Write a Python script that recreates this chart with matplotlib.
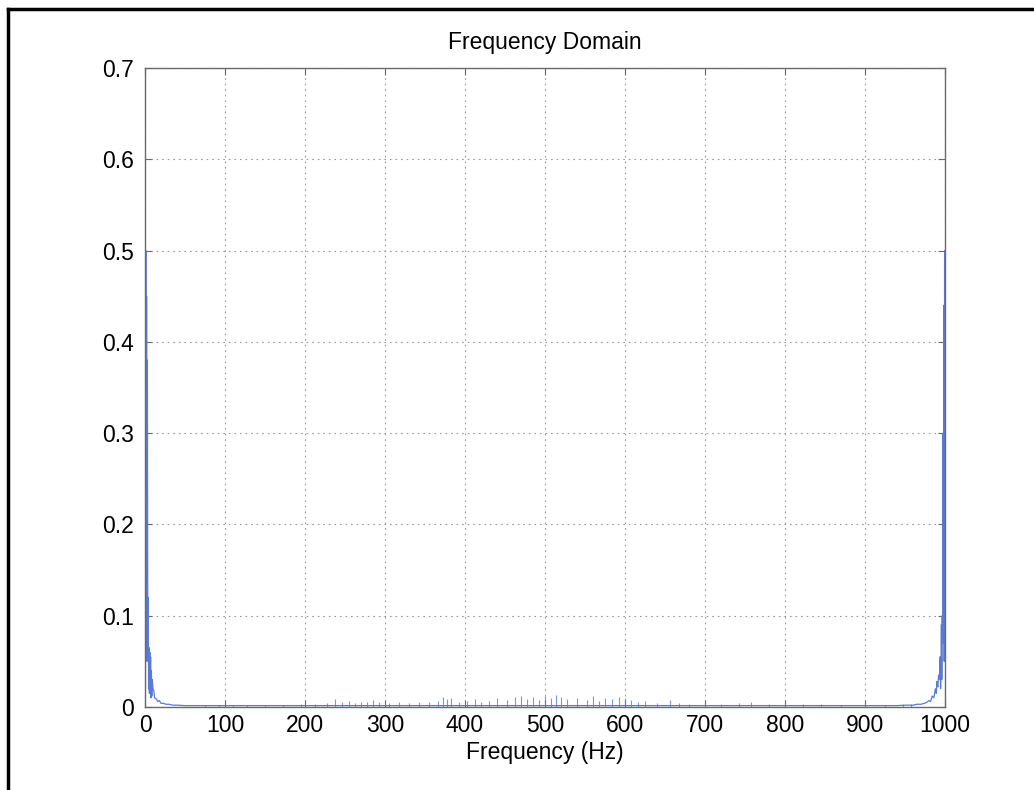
import matplotlib
matplotlib.use("Agg")
import matplotlib.pyplot as plt
from matplotlib.lines import Line2D

# ---- data ----
left_freq = [0, 0.5, 1, 1.5, 2, 2.5, 3, 3.5, 4, 4.5, 5, 5.5, 6, 6.5, 7, 7.5, 8,
             8.5, 9, 10, 11, 12, 14, 16, 18, 20, 23, 26, 30, 35, 40, 50, 60]
left_mag = [0.30, 0.02, 0.50, 0.06, 0.45, 0.05, 0.38, 0.07, 0.12, 0.02, 0.065,
            0.015, 0.06, 0.02, 0.055, 0.01, 0.04, 0.012, 0.03, 0.02, 0.018,
            0.010, 0.009, 0.006, 0.007, 0.004, 0.004, 0.003, 0.003, 0.002,
            0.002, 0.0015, 0.0015]

right_freq = [940, 950, 960, 965, 970, 974, 977, 980, 982, 984, 986, 988, 989,
              990, 991, 992, 993, 994, 994.5, 995, 995.5, 996, 996.5, 997,
              997.5, 998, 998.5, 999, 999.5]
right_mag = [0.0015, 0.002, 0.002, 0.003, 0.003, 0.004, 0.005, 0.007, 0.006,
             0.012, 0.010, 0.020, 0.015, 0.028, 0.022, 0.035, 0.030, 0.055,
             0.02, 0.045, 0.09, 0.03, 0.10, 0.08, 0.30, 0.07, 0.44, 0.05, 0.50]

mid_freq = [60, 940]
mid_mag = [0.0015, 0.0015]

noise_freq = [75, 92, 110, 128, 150, 172, 195, 212, 228, 238, 246, 255, 262,
              270, 278, 285, 292, 305, 318, 330, 342, 355, 366, 372, 378, 382,
              392, 402, 412, 420, 430, 440, 452, 462, 470, 478, 485, 492, 500,
              508, 514, 520, 528, 540, 552, 560, 568, 575, 584, 592, 600, 608,
              616, 625, 640, 656, 668, 680, 700, 720, 742, 758, 780, 800, 822,
              845, 870, 900, 925, 947, 958]
noise_mag = [0.002, 0.0025, 0.002, 0.002, 0.0025, 0.002, 0.003, 0.003, 0.004,
             0.009, 0.005, 0.007, 0.004, 0.006, 0.006, 0.008, 0.005, 0.004,
             0.006, 0.004, 0.005, 0.005, 0.007, 0.011, 0.009, 0.010, 0.006,
             0.007, 0.009, 0.006, 0.007, 0.010, 0.008, 0.011, 0.012, 0.009,
             0.011, 0.008, 0.012, 0.010, 0.013, 0.011, 0.009, 0.010, 0.008,
             0.012, 0.007, 0.010, 0.009, 0.011, 0.010, 0.008, 0.006, 0.007,
             0.004, 0.008, 0.004, 0.003, 0.004, 0.003, 0.004, 0.005, 0.003,
             0.004, 0.003, 0.003, 0.002, 0.004, 0.002, 0.003, 0.003]

x_ticks = [0, 100, 200, 300, 400, 500, 600, 700, 800, 900, 1000]
y_ticks = [0, 0.1, 0.2, 0.3, 0.4, 0.5, 0.6, 0.7]
y_tick_labels = ["0", "0.1", "0.2", "0.3", "0.4", "0.5", "0.6", "0.7"]

# ---- figure ----
plt.rcParams['font.family'] = ['Liberation Sans', 'DejaVu Sans']
W, H = 1034, 790
fig = plt.figure(figsize=(W / 100, H / 100), dpi=100)
fig.patch.set_facecolor('white')

# outer border (left and top visible)
fig.add_artist(Line2D([8 / W, 8 / W], [-0.1, 1 - 9 / H], color='black', lw=2.5,
                      transform=fig.transFigure))
fig.add_artist(Line2D([8 / W, 1.1], [1 - 9 / H, 1 - 9 / H], color='black', lw=2.5,
                      transform=fig.transFigure))

ax = fig.add_axes([145 / W, 1 - 707 / H, 800 / W, 639 / H])
line_color = '#5a7ad8'

all_freq = left_freq + mid_freq + right_freq
all_mag = left_mag + mid_mag + right_mag
ax.plot(all_freq, all_mag, color=line_color, lw=0.9)
ax.vlines(noise_freq, 0, noise_mag, color=line_color, lw=0.8, alpha=0.8)

ax.set_xlim(0, 1000)
ax.set_ylim(0, 0.7)
ax.set_xticks(x_ticks)
ax.set_yticks(y_ticks)
ax.set_yticklabels(y_tick_labels)
ax.grid(True, color='#999999', linestyle=(0, (1.5, 3.5)), lw=0.8)
for s in ax.spines.values():
    s.set_color('#6a6a6a')
    s.set_linewidth(1.0)
ax.tick_params(direction='in', length=5, color='#6a6a6a', labelsize=16.5,
               pad=8, top=True, right=True)
ax.tick_params(axis='x', pad=5)

ax.set_title("Frequency Domain", fontsize=16.5, pad=14)
ax.set_xlabel("Frequency (Hz)", fontsize=16.5, labelpad=3)

fig.savefig("out.png", dpi=100)
